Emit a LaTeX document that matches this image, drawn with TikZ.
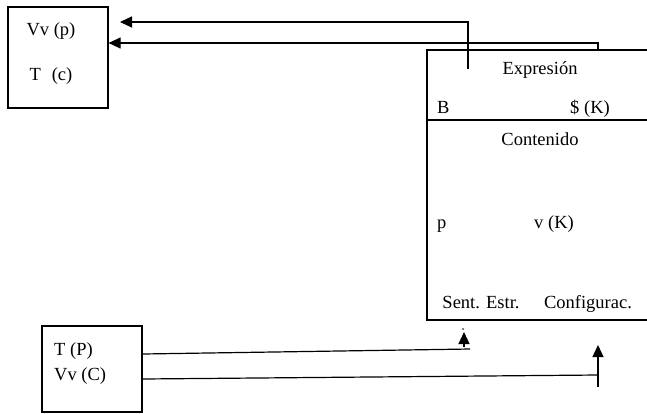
\documentclass[tikz,border=0pt]{standalone}
\usepackage{fontspec}
\setmainfont{Liberation Serif}
\usetikzlibrary{arrows.meta}
\begin{document}
\begin{tikzpicture}[x=1pt,y=-1pt,
  box/.style={draw,line width=1.2pt,inner sep=0pt},
  lbl/.style={inner sep=0pt,font=\fontsize{18.5}{21}\selectfont},
  conn/.style={line width=1.2pt},
  arr/.style={line width=1.2pt,-{Triangle[length=12pt,width=11pt]}}]
\useasboundingbox (0,0) rectangle (647,413);
\begin{scope}
\clip (0,0) rectangle (647,413);
% boxes
\node[box,minimum width=100pt,minimum height=101pt] (vbox) at (58,57.5) {};
\node[box,minimum width=253pt,minimum height=270pt] (big) at (553.5,185) {};
\draw[conn] (big.west |- 0,120) coordinate (dl) -- (big.east |- 0,120) coordinate (dr);
\node[box,minimum width=100pt,minimum height=86pt] (tbox) at (92,369) {};
% labels
\node[lbl,anchor=base] (l1) at (51,35) {Vv (p)};
\node[lbl,anchor=base] (l2) at (51,80) {T\,\, (c)};
\node[lbl,anchor=base] (ex) at (540,74) {Expresión};
\node[lbl,anchor=base west] (b) at (437,113) {B};
\node[lbl,anchor=base] (sk) at (590,113) {\$ (K)};
\node[lbl,anchor=base] (co) at (540,145) {Contenido};
\node[lbl,anchor=base west] (p) at (437,228) {p};
\node[lbl,anchor=base] (vk) at (554,228) {v (K)};
\node[lbl,anchor=base] (se) at (481,308) {Sent. Estr.};
\node[lbl,anchor=base] (cf) at (588,308) {Configurac.};
\node[lbl,anchor=base west] (tp) at (54,355) {T (P)};
\node[lbl,anchor=base west] (vc) at (54,380) {Vv (C)};
% connectors top
\coordinate (s1) at (468,69);
\coordinate (t1) at (120,22);
\draw[arr] (s1) |- (t1);
\coordinate (s2) at (598,50);
\draw[arr] (s2) |- (vbox.east |- 0,43);
% connectors bottom
\coordinate (e3) at (470,349);
\draw[conn] (tbox.east |- 0,354) -- (e3);
\coordinate (a3s) at (464,347);
\coordinate (a3t) at (464,332);
\draw[arr] (a3s) -- (a3t);
\fill (463,329) circle (0.8pt);
\coordinate (e4) at (598,375);
\draw[conn] (tbox.east |- 0,379) -- (e4);
\coordinate (a4s) at (598,387);
\coordinate (a4t) at (598,345);
\draw[arr] (a4s) -- (a4t);
\end{scope}
\end{tikzpicture}
\end{document}
